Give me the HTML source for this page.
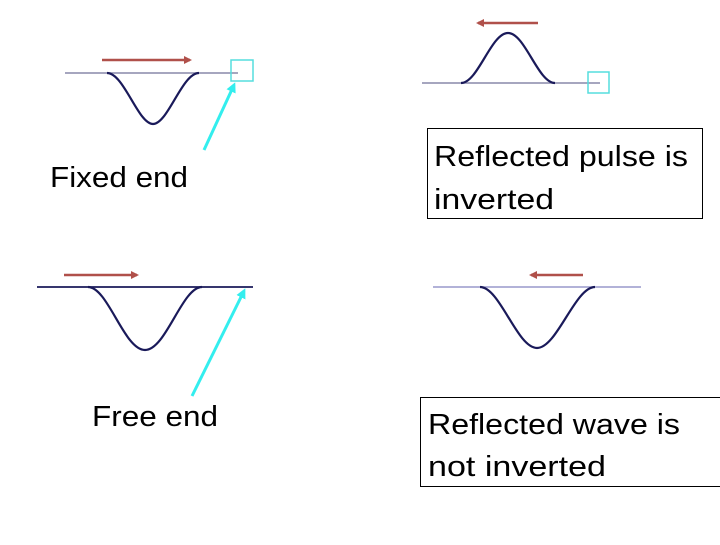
<!DOCTYPE html>
<html><head><style>
html,body{margin:0;padding:0;background:#fff;}
.t{font-family:"Liberation Sans",sans-serif;font-size:29px;fill:#000;}
</style></head><body>
<svg width="720" height="540" viewBox="0 0 720 540" xmlns="http://www.w3.org/2000/svg">
<defs>
<marker id="ar" markerWidth="8" markerHeight="8" refX="6" refY="4" orient="auto" markerUnits="userSpaceOnUse"><path d="M0,0 L8,4 L0,8 z" fill="#b0504a"/></marker>
<marker id="ac" markerWidth="10" markerHeight="10" refX="7" refY="5" orient="auto" markerUnits="userSpaceOnUse"><path d="M0,0 L10,5 L0,10 z" fill="#33eeee"/></marker>
</defs>
<line x1="65" y1="73" x2="238" y2="73" stroke="#8888aa" stroke-width="1.5"/>
<path d="M107,73 C124,73 138,124 153,124 C168,124 182,73 199,73" fill="none" stroke="#1a1a5a" stroke-width="2.2"/>
<line x1="102" y1="60" x2="190" y2="60" stroke="#b0504a" stroke-width="2.5" marker-end="url(#ar)"/>
<rect x="231" y="60" width="22" height="21" fill="none" stroke="#55dddd" stroke-width="1.5"/>
<line x1="204" y1="150" x2="234" y2="85" stroke="#33eeee" stroke-width="3" marker-end="url(#ac)"/>
<text x="50" y="187" class="t" textLength="138" lengthAdjust="spacingAndGlyphs">Fixed end</text>
<line x1="422" y1="83" x2="600" y2="83" stroke="#8888aa" stroke-width="1.5"/>
<path d="M461,83 C478,83 491,33 508,33 C525,33 538,83 555,83" fill="none" stroke="#1a1a5a" stroke-width="2.2"/>
<line x1="538" y1="23" x2="478" y2="23" stroke="#b0504a" stroke-width="2.5" marker-end="url(#ar)"/>
<rect x="588" y="72" width="21" height="21" fill="none" stroke="#55dddd" stroke-width="1.5"/>
<rect x="427.5" y="128.5" width="275" height="90" fill="none" stroke="#000" stroke-width="1"/>
<text x="434" y="166" class="t" textLength="254" lengthAdjust="spacingAndGlyphs">Reflected pulse is</text>
<text x="434" y="209" class="t" textLength="120" lengthAdjust="spacingAndGlyphs">inverted</text>
<line x1="37" y1="287" x2="253" y2="287" stroke="#1a1a5a" stroke-width="1.8"/>
<path d="M88,287 C108,287 124,350 145,350 C166,350 182,287 202,287" fill="none" stroke="#1a1a5a" stroke-width="2.2"/>
<line x1="64" y1="275" x2="137" y2="275" stroke="#b0504a" stroke-width="2.5" marker-end="url(#ar)"/>
<line x1="192" y1="396" x2="244" y2="291" stroke="#33eeee" stroke-width="3" marker-end="url(#ac)"/>
<text x="92" y="426" class="t" textLength="126" lengthAdjust="spacingAndGlyphs">Free end</text>
<line x1="433" y1="287" x2="641" y2="287" stroke="#9999cc" stroke-width="1.5"/>
<path d="M480,287 C500,287 517,348 537,348 C557,348 575,287 595,287" fill="none" stroke="#1a1a5a" stroke-width="2.2"/>
<line x1="583" y1="275" x2="531" y2="275" stroke="#b0504a" stroke-width="2.5" marker-end="url(#ar)"/>
<rect x="420.5" y="397.5" width="300" height="89" fill="none" stroke="#000" stroke-width="1"/>
<text x="428" y="434" class="t" textLength="252" lengthAdjust="spacingAndGlyphs">Reflected wave is</text>
<text x="428" y="476" class="t" textLength="178" lengthAdjust="spacingAndGlyphs">not inverted</text>
</svg>
</body></html>
